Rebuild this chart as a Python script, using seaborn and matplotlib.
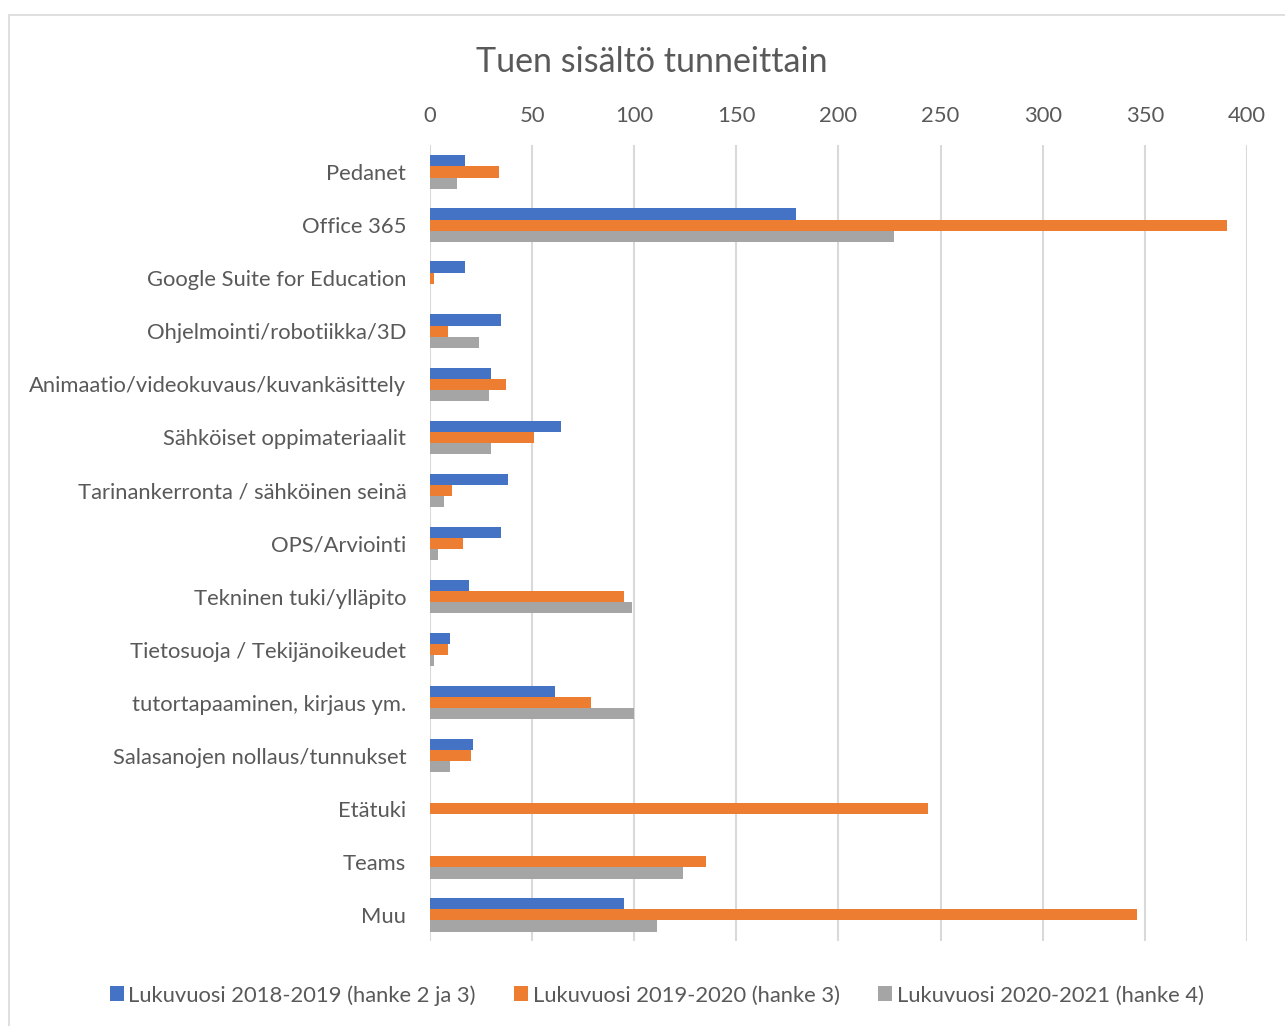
import numpy as np
import pandas as pd
import matplotlib
matplotlib.use("Agg")
import matplotlib.pyplot as plt
from matplotlib.patches import Rectangle, Patch
import seaborn as sns

categories = ["Pedanet", "Office 365", "Google Suite for Education",
              "Ohjelmointi/robotiikka/3D", "Animaatio/videokuvaus/kuvankäsittely",
              "Sähköiset oppimateriaalit", "Tarinankerronta / sähköinen seinä",
              "OPS/Arviointi", "Tekninen tuki/ylläpito", "Tietosuoja / Tekijänoikeudet",
              "tutortapaaminen, kirjaus ym.", "Salasanojen nollaus/tunnukset",
              "Etätuki", "Teams", "Muu"]
series_names = ["Lukuvuosi 2018-2019 (hanke 2 ja 3)",
                "Lukuvuosi 2019-2020 (hanke 3)",
                "Lukuvuosi 2020-2021 (hanke 4)"]
v2018 = [17, 179, 17, 35, 30, 64, 38, 35, 19, 10, 61, 21, np.nan, np.nan, 95]
v2019 = [34, 390, 2, 9, 37, 51, 11, 16, 95, 9, 79, 20, 244, 135, 346]
v2020 = [13, 227, np.nan, 24, 29, 30, 7, 4, 99, 2, 100, 10, np.nan, 124, 111]
xticks = [0, 50, 100, 150, 200, 250, 300, 350, 400]
colors = ["#4472C4", "#ED7D31", "#A5A5A5"]
title = "Tuen sisältö tunneittain"

rows = []
for name, vals in zip(series_names, [v2018, v2019, v2020]):
    for c, v in zip(categories, vals):
        rows.append({"cat": c, "series": name, "value": v})
df = pd.DataFrame(rows).dropna()

sns.set_theme(style="white")
plt.rcParams['font.family'] = ['Lato', 'DejaVu Sans']
text_color = "#595959"
fs = 15.8

fig = plt.figure(figsize=(12.85, 10.26), dpi=100)
ax = fig.add_axes([0.3346, 0.0824, 0.6358, 0.7758])

sns.barplot(data=df, y="cat", x="value", hue="series", order=categories,
            hue_order=series_names, palette=colors, orient="h", width=0.63,
            saturation=1, linewidth=0, ax=ax, legend=False)

ax.set_xlim(0, 400)
ax.set_ylim(len(categories) - 0.5, -0.5)
ax.set_xticks(xticks)
ax.xaxis.tick_top()
ax.set_xlabel("")
ax.set_ylabel("")
ax.grid(axis="x", color="#d9d9d9", linewidth=1.5)
ax.grid(axis="y", visible=False)
ax.set_axisbelow(True)
for s in ax.spines.values():
    s.set_visible(False)
ax.tick_params(axis="x", length=0, pad=14, labelsize=fs, labelcolor=text_color)
ax.tick_params(axis="y", length=0, pad=17, labelsize=fs, labelcolor=text_color)

fig.text(0.507, 0.940, title, ha="center", va="center", fontsize=24.5, color=text_color)

handles = [Patch(facecolor=c, edgecolor="none") for c in colors]
fig.legend(handles, series_names, loc="center", bbox_to_anchor=(0.511, 0.030), ncol=3,
           frameon=False, fontsize=fs, labelcolor=text_color, handlelength=0.65,
           handleheight=0.65, handletextpad=0.2, columnspacing=1.75)

fig.patches.append(Rectangle((0.007, -0.01), 1.05, 0.9954, transform=fig.transFigure,
                             fill=False, edgecolor="#d9d9d9", linewidth=1.2))

fig.savefig("out.png", dpi=100)
